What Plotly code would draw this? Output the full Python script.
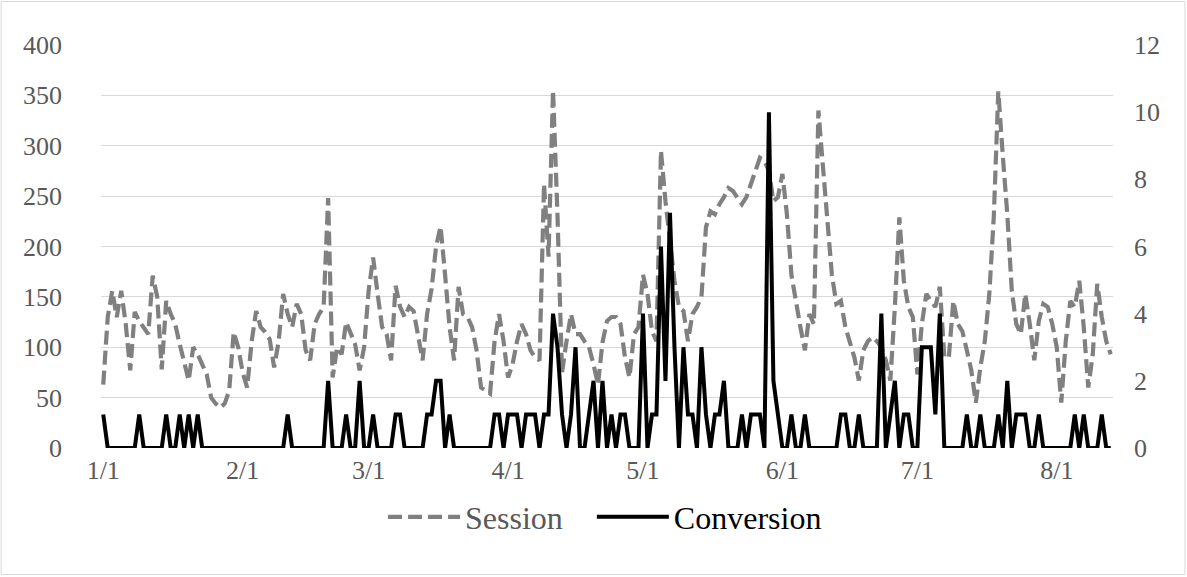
import plotly.graph_objects as go
import pandas as pd

# ---- data (daily, starting 1 Jan) ----
start_date = "2019-01-01"
session = [
    63, 130, 156, 130, 156, 123, 77, 135, 126, 120,
    113, 171, 150, 78, 146, 133, 123, 103, 83, 67,
    100, 93, 83, 73, 50, 44, 40, 44, 57, 115,
    100, 75, 60, 106, 136, 120, 115, 108, 80, 106,
    153, 133, 120, 143, 133, 97, 87, 123, 133, 140,
    248, 70, 100, 93, 125, 113, 103, 77, 100, 156,
    189, 153, 120, 113, 87, 161, 140, 130, 140, 136,
    113, 87, 133, 158, 200, 220, 172, 120, 87, 160,
    133, 130, 120, 97, 60, 57, 54, 106, 133, 106,
    70, 83, 106, 123, 113, 97, 90, 87, 262, 190,
    355, 230, 75, 106, 133, 113, 113, 106, 100, 83,
    63, 105, 126, 130, 130, 123, 90, 70, 113, 120,
    172, 153, 116, 106, 295, 245, 206, 166, 140, 136,
    106, 133, 140, 150, 219, 235, 232, 242, 249, 258,
    255, 249, 242, 249, 262, 278, 288, 285, 275, 245,
    249, 272, 232, 172, 143, 120, 97, 133, 123, 335,
    280, 222, 172, 143, 146, 120, 106, 90, 67, 97,
    106, 110, 106, 100, 87, 67, 140, 229, 166, 140,
    130, 73, 123, 153, 146, 140, 160, 90, 90, 146,
    123, 116, 97, 77, 45, 80, 106, 153, 230, 354,
    290, 232, 156, 123, 113, 153, 123, 87, 126, 143,
    140, 123, 100, 45, 106, 146, 140, 166, 120, 60,
    93, 163, 130, 106, 93,
]
conversion = [
    1, 0, 0, 0, 0, 0, 0, 0, 1, 0,
    0, 0, 0, 0, 1, 0, 0, 1, 0, 1,
    0, 1, 0, 0, 0, 0, 0, 0, 0, 0,
    0, 0, 0, 0, 0, 0, 0, 0, 0, 0,
    0, 1, 0, 0, 0, 0, 0, 0, 0, 0,
    2, 0, 0, 0, 1, 0, 0, 2, 0, 0,
    1, 0, 0, 0, 0, 1, 1, 0, 0, 0,
    0, 0, 1, 1, 2, 2, 0, 1, 0, 0,
    0, 0, 0, 0, 0, 0, 0, 1, 1, 0,
    1, 1, 1, 0, 1, 1, 1, 0, 1, 1,
    4, 3, 1, 0, 1, 3, 0, 0, 1, 2,
    0, 2, 0, 1, 0, 1, 1, 0, 0, 0,
    4, 0, 1, 1, 6, 2, 7, 3, 0, 3,
    1, 1, 0, 3, 1, 0, 1, 1, 2, 0,
    0, 0, 1, 0, 1, 1, 1, 0, 10, 2,
    1, 0, 0, 1, 0, 0, 1, 0, 0, 0,
    0, 0, 0, 0, 1, 1, 0, 0, 1, 0,
    0, 0, 0, 4, 0, 1, 2, 0, 1, 1,
    0, 0, 3, 3, 3, 1, 4, 0, 0, 0,
    0, 0, 1, 0, 0, 1, 0, 0, 0, 1,
    0, 2, 0, 1, 1, 1, 0, 0, 1, 0,
    0, 0, 0, 0, 0, 0, 1, 0, 1, 0,
    0, 0, 1, 0, 0,
]
series_names = ["Session", "Conversion"]
left_ticks = [0, 50, 100, 150, 200, 250, 300, 350, 400]
right_ticks = [0, 2, 4, 6, 8, 10, 12]

assert len(session) == len(conversion), (len(session), len(conversion))
dates = pd.date_range(start_date, periods=len(session), freq="D")

FONT = "Liberation Serif"
GRAY_TXT = "#595959"
NBSP = "\u00a0"

W, H = 1187, 577
ML, MR, MT, MB = 101.3, 74.4, 45, 129
PW, PH = W - ML - MR, H - MT - MB

fig = go.Figure()
fig.add_trace(go.Scatter(
    x=dates, y=session, name=series_names[0] + NBSP * 3, mode="lines",
    line=dict(color="#808080", width=4.2, dash="14px,6px"),
    yaxis="y",
))
fig.add_trace(go.Scatter(
    x=dates, y=conversion,
    name='<span style="color:#000000">' + series_names[1] + '</span>',
    mode="lines", line=dict(color="#000000", width=4),
    yaxis="y2",
))

x_lo = dates[0] - pd.Timedelta(hours=12)
x_hi = dates[-1] + pd.Timedelta(hours=12)


def px_to_paper_x(px):
    return (px - ML) / PW


def px_to_paper_y(py):
    return (H - MB - py) / PH


# outer chart border
fig.add_shape(type="rect", xref="paper", yref="paper",
              x0=px_to_paper_x(1.5), x1=px_to_paper_x(W - 2.5),
              y0=px_to_paper_y(H - 2.5), y1=px_to_paper_y(1.5),
              line=dict(color="#d9d9d9", width=1), layer="below")

fig.update_layout(
    width=W, height=H,
    margin=dict(l=ML, r=MR, t=MT, b=MB, pad=0),
    paper_bgcolor="white", plot_bgcolor="white",
    font=dict(family=FONT, size=26, color=GRAY_TXT),
    showlegend=True,
    legend=dict(orientation="h", x=px_to_paper_x(605), xanchor="center",
                y=px_to_paper_y(517), yanchor="middle",
                font=dict(family=FONT, size=32, color=GRAY_TXT),
                itemwidth=72, traceorder="normal",
                bgcolor="rgba(0,0,0,0)"),
    xaxis=dict(
        type="date", range=[x_lo, x_hi],
        tick0=start_date, dtick="M1", tickformat="%-m/%-d",
        showgrid=False, zeroline=False, showline=False,
        ticks="", ticklabelstandoff=4,
        tickfont=dict(family=FONT, size=26, color=GRAY_TXT),
    ),
    yaxis=dict(
        range=[0, 400], tickvals=left_ticks,
        showgrid=True, gridcolor="#d9d9d9", gridwidth=1.3,
        zeroline=False, showline=False, ticks="",
        ticklabelstandoff=38,
        tickfont=dict(family=FONT, size=26, color=GRAY_TXT),
    ),
    yaxis2=dict(
        range=[0, 12], tickvals=right_ticks, overlaying="y", side="right",
        showgrid=False, zeroline=False, showline=False, ticks="",
        ticklabelstandoff=20,
        tickfont=dict(family=FONT, size=26, color=GRAY_TXT),
    ),
)

fig.write_html("out.html")
